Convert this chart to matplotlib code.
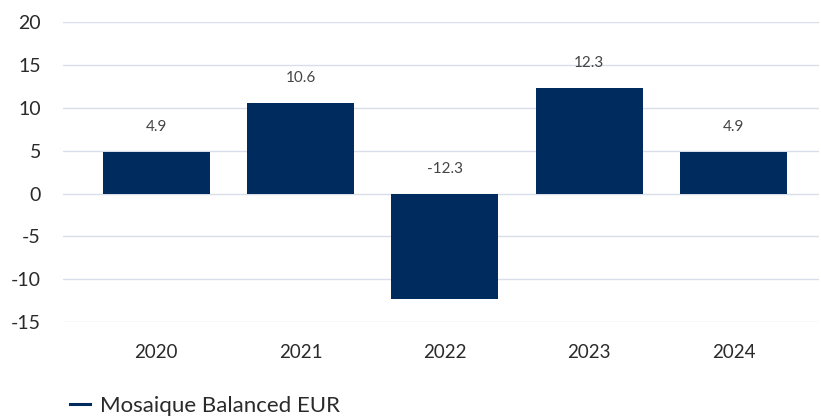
import numpy as np
import matplotlib.pyplot as plt
from matplotlib.lines import Line2D

""" ------------------- Data ------------------- """

years = ['2020', '2021', '2022', '2023', '2024']
returns = [4.9, 10.6, -12.3, 12.3, 4.9]
y_ticks = [20, 15, 10, 5, 0, -5, -10, -15]
series_name = 'Mosaique Balanced EUR'

bar_color = '#002B5F'
grid_color = '#DADDEA'
text_color = '#2A2A2A'

plt.rcParams['font.family'] = ['Lato', 'DejaVu Sans']

fig = plt.figure(figsize=(8.21, 4.16), dpi=100)
ax = fig.add_axes([0.077, 0.226, 0.92, 0.72])

x = np.arange(len(years))
ax.bar(x, returns, width=0.74, color=bar_color, zorder=3)

# value labels sit above the bar top (or above zero for negatives)
for xi, v in zip(x, returns):
  ax.annotate(f"{v:.1f}", (xi, max(v, 0)), xytext=(0, 13), textcoords='offset points',
              ha='center', va='bottom', fontsize=11, color='#444444')

ax.set_ylim(-15, 20)
ax.set_yticks(y_ticks)
ax.set_yticklabels([str(t) for t in y_ticks])
ax.set_xlim(-0.645, 4.59)
ax.set_xticks(x)
ax.set_xticklabels(years)

ax.grid(axis='y', color=grid_color, linewidth=1, zorder=0)
for s in ax.spines.values():
  s.set_visible(False)
ax.tick_params(axis='y', length=0, pad=16, labelsize=14, labelcolor=text_color)
ax.tick_params(axis='x', length=0, pad=16, labelsize=13.5, labelcolor=text_color)

# legend at bottom left
handle = Line2D([0], [0], color=bar_color, linewidth=2.2)
fig.legend([handle], [series_name], loc='lower left', bbox_to_anchor=(0.075, -0.022),
           frameon=False, handlelength=0.9, handletextpad=0.45, fontsize=16,
           labelcolor=text_color, borderaxespad=0)

fig.savefig('out.png', dpi=100)
